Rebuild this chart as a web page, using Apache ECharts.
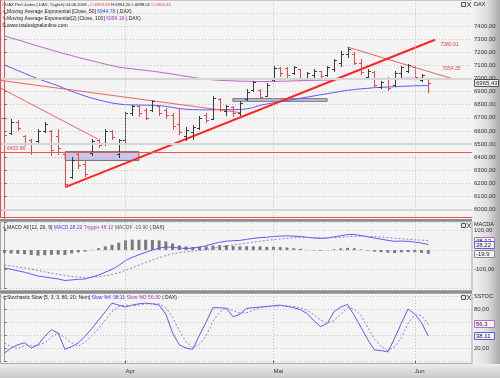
<!DOCTYPE html>
<html>
<head>
<meta charset="utf-8">
<script src="https://cdn.jsdelivr.net/npm/echarts@6/dist/echarts.min.js"></script>
<style>
  html, body { margin: 0; padding: 0; background: #fff; }
  #chart { width: 500px; height: 378px; }
</style>
</head>
<body>
<div id="chart"></div>
<script>
// trading days shown (index = position on the x axis)
const dates = [
  '2008-03-04','2008-03-05','2008-03-06','2008-03-07','2008-03-10','2008-03-11','2008-03-12','2008-03-13','2008-03-14',
  '2008-03-17','2008-03-18','2008-03-19','2008-03-20','2008-03-25','2008-03-26','2008-03-27','2008-03-28','2008-03-31',
  '2008-04-01','2008-04-02','2008-04-03','2008-04-04','2008-04-07','2008-04-08','2008-04-09','2008-04-10','2008-04-11',
  '2008-04-14','2008-04-15','2008-04-16','2008-04-17','2008-04-18','2008-04-21','2008-04-22','2008-04-23','2008-04-24',
  '2008-04-25','2008-04-28','2008-04-29','2008-04-30',
  '2008-05-02','2008-05-05','2008-05-06','2008-05-07','2008-05-08','2008-05-09','2008-05-12','2008-05-13','2008-05-14',
  '2008-05-15','2008-05-16','2008-05-19','2008-05-20','2008-05-21','2008-05-22','2008-05-23','2008-05-26','2008-05-27',
  '2008-05-28','2008-05-29','2008-05-30',
  '2008-06-02','2008-06-03','2008-06-04'
];
const opens = [6700,6580,6670,6560,6530,6520,6600,6600,6560,6420,6250,6420,6350,6430,6530,6500,6600,6420,
  6530,6735,6790,6760,6760,6790,6760,6720,6650,6560,6590,6620,6720,6690,6840,6750,6780,6740,6840,6910,6910,6870,
  6990,7080,7080,7040,7070,7005,7030,7055,7030,7070,7120,7190,7190,7120,7010,7050,6935,7000,6950,7040,7060,
  7090,6990,6993.69];
const highs = [6716,6687,6680,6567,6537,6612,6664,6610,6612,6440,6403,6440,6366,6537,6537,6612,6605,6537,
  6745,6800,6800,6776,6836,6791,6776,6739,6776,6627,6642,6716,6739,6866,6851,6800,6791,6828,6918,6978,6918,6963,
  7097,7090,7090,7097,7075,7052,7075,7060,7097,7150,7210,7240,7200,7150,7075,7060,6978,7015,7060,7097,7112,
  7097,7037,6994.20];
const lows = [6552,6575,6605,6493,6425,6515,6590,6418,6425,6172,6239,6314,6254,6418,6478,6493,6537,6403,
  6500,6724,6717,6687,6754,6724,6702,6612,6575,6530,6537,6612,6664,6687,6754,6724,6717,6724,6836,6903,6851,6866,
  6978,7022,7015,7037,6985,7000,7015,7015,7022,7060,7097,7165,7112,7037,7000,6940,6925,6910,6940,7015,7052,
  7000,6978,6898.01];
const closes = [6570,6670,6620,6510,6440,6600,6655,6450,6470,6190,6380,6340,6270,6520,6490,6600,6550,6530,
  6735,6790,6740,6700,6825,6740,6720,6640,6590,6610,6630,6700,6680,6850,6770,6790,6740,6810,6900,6970,6860,6950,
  7080,7040,7030,7085,7000,7040,7060,7020,7090,7140,7190,7225,7120,7050,7060,6950,6970,6925,7045,7090,7100,
  7015,7025,6965.43];

const ema50 = [7104,7082,7061,7040,7018,6998,6980,6962,6944,6922,6902,6884,6866,6850,6836,6824,6813,6805,
  6800,6798,6797,6796,6795,6793,6787,6779,6770,6765,6762,6761,6760,6761,6762,6762,6762,6763,6768,6778,6795,6805,
  6815,6822,6831,6840,6849,6858,6867,6876,6884,6893,6902,6910,6916,6921,6925,6930,6933,6935,6937,6940,6942,
  6944,6946,6944.78];
const ema100 = [7325,7310,7295,7280,7263,7248,7233,7218,7203,7188,7175,7161,7148,7136,7123,7110,7098,7087,
  7080,7074,7068,7062,7056,7049,7041,7034,7025,7017,7009,7001,6995,6990,6986,6984,6982,6980,6979,6978,6977,6977,
  6978,6979,6980,6982,6983,6985,6986,6987,6988,6990,6992,6994,6996,6997,6998,6999,6999,7000,7000,7001,7002,
  7002,7001,6999.18];

const macd = [-93,-100,-108,-115,-125,-135,-140,-145,-150,-158,-155,-152,-150,-140,-130,-115,-100,-80,
  -55,-38,-25,-12,0,10,15,14,10,8,10,15,22,32,40,46,48,50,55,60,64,66,
  70,72,73,72,70,66,62,60,62,68,74,80,80,75,68,62,56,50,45,46,45,
  41,36,28.22];
const trigger = [-78,-82,-88,-93,-99,-106,-113,-120,-126,-132,-137,-140,-142,-141,-139,-134,-127,-118,
  -105,-92,-78,-65,-52,-40,-29,-20,-14,-10,-6,-2,3,9,15,21,27,31,36,41,45,50,
  54,57,60,63,64,65,64,63,63,64,66,69,71,72,71,70,67,64,61,58,56,
  53,51,48.12];
const macdHist = [-15,-18,-20,-22,-26,-29,-27,-25,-24,-26,-18,-12,-8,1,9,19,27,38,
  50,54,53,53,52,50,44,34,24,18,16,17,19,23,25,25,21,19,19,19,19,16,
  16,15,13,9,6,1,-2,-3,-1,4,8,11,9,3,-3,-8,-11,-14,-16,-12,-11,
  -12,-15,-19.9];

const stochK = [12,20,25,28,20,25,38,48,43,18,22,28,38,50,63,76,89,86,
  83,86,88,89,88,86,72,43,25,20,18,40,60,82,82,81,68,72,81,82,83,84,
  85,86,84,82,79,73,62,53,58,76,83,87,70,52,33,17,16,14,35,58,80,
  72,59,38.11];
const stochD = [28,22,19,24,24,24,28,37,43,36,28,23,29,39,50,63,76,84,
  86,85,86,88,88,88,82,67,47,29,21,26,39,61,75,82,77,74,74,78,82,83,
  84,85,85,84,82,78,71,63,58,62,72,82,80,70,52,34,22,16,22,36,58,
  71,70,56.3];

const monthTicks = [18, 40, 61];
const monthLabels = ['Apr', 'Mai', 'Jun'];

// drawn studies: [startIndex, startPrice, endIndex, endPrice]
const trendUp = [9.15, 6172, 64, 7296];
const trendDownA = [-0.5, 6925, 13.9, 6537];
const trendDownB = [-0.5, 6985, 35.1, 6739];
const trendPeak = [51, 7240, 67, 6992];
const supportLevel = 6433.98;
const boxes = [[9.04, 6441, 20, 6374], [33.96, 6846, 47.97, 6826]];
const lineLabels = ['7280.91', '7054.35'];

const FONT = 'Liberation Sans, Arial, sans-serif';
const UP = '#3a3a3a', DOWN = '#ef4646';
const BLUE = '#5c5cf2', PURPLE = '#b86ac8';

const chart = echarts.init(document.getElementById('chart'));

const ohlc = dates.map((d, i) => [i, opens[i], highs[i], lows[i], closes[i]]);
const pairs = arr => arr.map((v, i) => [i, v]);
const seg = s => [[s[0], s[1]], [s[2], s[3]]];
const fmtComma = v => v.toFixed(2).replace('.', ',');

const monthLines = {
  silent: true, symbol: 'none', label: { show: false },
  lineStyle: { color: '#bdbdbd', type: [1, 2], width: 1 },
  data: monthTicks.map(t => ({ xAxis: t }))
};

const xAxisFor = (gi, withLabels) => ({
  type: 'value', gridIndex: gi, min: -0.5, max: 69.5,
  axisLine: { show: false }, splitLine: { show: false },
  axisTick: { show: withLabels, customValues: monthTicks, length: 3, inside: false, lineStyle: { color: '#555' } },
  axisLabel: {
    show: withLabels, customValues: monthTicks, margin: 5, align: 'left',
    fontFamily: FONT, fontSize: 6, color: '#333',
    formatter: v => monthLabels[monthTicks.indexOf(Math.round(v))] || ''
  },
  offset: withLabels ? 2 : 0
});

const yAxisFor = (gi, min, max, interval, lineColor, show) => ({
  type: 'value', gridIndex: gi, position: 'right', min, max, interval,
  axisLine: { show: true, lineStyle: { color: lineColor, width: 1 } },
  axisTick: { show: true, length: 2, lineStyle: { color: '#555' } },
  axisLabel: {
    margin: 2, fontFamily: FONT, fontSize: 6, color: '#333',
    formatter: v => show(v) ? fmtComma(v) : ''
  },
  splitLine: { show: true, lineStyle: { color: '#c4c4c4', type: [1, 2], width: 1 } }
});

const renderBar = (params, api) => {
  const i = api.value(0);
  const o = api.coord([i, api.value(1)]);
  const h = api.coord([i, api.value(2)]);
  const l = api.coord([i, api.value(3)]);
  const c = api.coord([i, api.value(4)]);
  const color = api.value(4) >= api.value(1) ? UP : DOWN;
  const x = Math.round(o[0]) + 0.5;
  const st = { stroke: color, lineWidth: 1 };
  return {
    type: 'group',
    children: [
      { type: 'line', shape: { x1: x, y1: Math.round(h[1]), x2: x, y2: Math.round(l[1]) + 1 }, style: st },
      { type: 'line', shape: { x1: x - 2.5, y1: Math.round(o[1]) + 0.5, x2: x, y2: Math.round(o[1]) + 0.5 }, style: st },
      { type: 'line', shape: { x1: x, y1: Math.round(c[1]) + 0.5, x2: x + 2.5, y2: Math.round(c[1]) + 0.5 }, style: st }
    ]
  };
};

const line = (data, color, xi, dashed, width) => ({
  type: 'line', xAxisIndex: xi, yAxisIndex: xi, data, showSymbol: false, silent: true,
  animation: false, z: 3,
  lineStyle: { color, width: width || 1, type: dashed ? [2, 2] : 'solid' }
});

const option = {
  animation: false,
  grid: [
    { left: 1, right: 28, top: -5.86, height: 228.3 },
    { left: 1, right: 28, top: 221.05, height: 67.55 },
    { left: 1, right: 28, top: 296, height: 65 }
  ],
  xAxis: [xAxisFor(0, false), xAxisFor(1, false), xAxisFor(2, true)],
  yAxis: [
    yAxisFor(0, 5900, 7600, 100, '#f04c4c', v => v >= 6000 && v <= 7400),
    yAxisFor(1, -200, 150, 100, '#9a9a9a', v => v === 100 || v === -100),
    yAxisFor(2, 0, 100, 20, '#9a9a9a', v => v === 20 || v === 80)
  ],
  series: [
    {
      type: 'custom', xAxisIndex: 0, yAxisIndex: 0, data: ohlc, renderItem: renderBar, z: 4,
      markLine: {
        silent: true, symbol: 'none', label: { show: false },
        data: [
          ...monthTicks.map(t => ({ xAxis: t, lineStyle: { color: '#bdbdbd', type: [1, 2], width: 1 } })),
          ...[6000, 6500, 7000].map(v => ({ yAxis: v, lineStyle: { color: '#d6d6d6', type: 'solid', width: 2 } })),
          { yAxis: supportLevel, lineStyle: { color: '#f05454', type: 'solid', width: 1 } }
        ]
      },
      markArea: {
        silent: true,
        itemStyle: { color: 'rgba(190,190,236,0.85)', borderColor: '#6e6e6e', borderWidth: 1 },
        data: boxes.map(b => [{ coord: [b[0], b[1]] }, { coord: [b[2], b[3]] }])
      }
    },
    line(pairs(ema50), BLUE, 0),
    line(pairs(ema100), PURPLE, 0),
    line(seg(trendDownA), '#f26262', 0),
    line(seg(trendDownB), '#f26262', 0),
    line(seg(trendPeak), '#f26262', 0),
    line(seg(trendUp), '#ff2222', 0, false, 2),

    {
      type: 'bar', xAxisIndex: 1, yAxisIndex: 1, data: pairs(macdHist), barWidth: 3,
      itemStyle: { color: '#7a7a7a' }, silent: true, z: 2, markLine: monthLines
    },
    line(pairs(macd), BLUE, 1),
    line(pairs(trigger), PURPLE, 1, true),

    Object.assign(line(pairs(stochK), BLUE, 2), { markLine: monthLines }),
    line(pairs(stochD), PURPLE, 2, true)
  ]
};
chart.setOption(option);

// overlays: panel frames, header texts, value tags
const py = (axis, v) => chart.convertToPixel({ xAxisIndex: axis, yAxisIndex: axis }, [0, v])[1];
const px = i => chart.convertToPixel({ xAxisIndex: 0, yAxisIndex: 0 }, [i, 7000])[0];

const tag = (y, text, border, w) => ({
  type: 'group', z: 120, children: [
    { type: 'rect', shape: { x: 474.5, y: Math.round(y) - 3.5, width: w, height: 7 },
      style: { fill: '#f4f4f4', stroke: border, lineWidth: 1 } },
    { type: 'text', x: 476, y: Math.round(y), style: { text, fill: '#222', font: '6px ' + FONT, verticalAlign: 'middle' } }
  ]
});
const txt = (x, y, rich, textStr, size, fill) => ({
  type: 'text', x, y, z: 110,
  style: { text: textStr, rich, fill: fill || '#222', font: (size || 5) + 'px ' + FONT, verticalAlign: 'middle' }
});
const richBase = s => ({
  r: { fill: '#f03c3c', fontSize: s, fontFamily: FONT },
  b: { fill: '#3c3cf0', fontSize: s, fontFamily: FONT },
  p: { fill: '#a040b8', fontSize: s, fontFamily: FONT },
  g: { fill: '#555', fontSize: s, fontFamily: FONT },
  i: { fill: '#333', fontSize: s + 1, fontFamily: 'DejaVu Sans' }
});
const hline = (x1, x2, y, color) => ({ type: 'line', z: 101, shape: { x1, y1: y, x2, y2: y }, style: { stroke: color, lineWidth: 1 } });
const vline = (x, y1, y2, color) => ({ type: 'line', z: 101, shape: { x1: x, y1, x2: x, y2 }, style: { stroke: color, lineWidth: 1 } });
// small window buttons at the top right of each panel
const buttons = y => ({
  type: 'group', z: 115, children: [
    { type: 'rect', shape: { x: 461.5, y: y + 0.5, width: 4, height: 4 }, style: { fill: '#e8e8e8', stroke: '#555', lineWidth: 1 } },
    { type: 'line', shape: { x1: 467, y1: y, x2: 471, y2: y + 5 }, style: { stroke: '#555', lineWidth: 1 } },
    { type: 'line', shape: { x1: 471, y1: y, x2: 467, y2: y + 5 }, style: { stroke: '#555', lineWidth: 1 } }
  ]
});

const graphics = [
  // backgrounds
  { type: 'rect', z: -20, shape: { x: 0, y: 0, width: 500, height: 378 }, style: { fill: '#ffffff' } },
  { type: 'rect', z: -19, shape: { x: 472, y: 0, width: 28, height: 364 },
    style: { fill: new echarts.graphic.LinearGradient(0, 0, 1, 0, [
      { offset: 0, color: '#f2f2f2' }, { offset: 0.55, color: '#dedede' }, { offset: 1, color: '#a9a9a9' }]) } },
  { type: 'rect', z: -19, shape: { x: 0, y: 364, width: 500, height: 14 },
    style: { fill: new echarts.graphic.LinearGradient(0, 0, 0, 1, [
      { offset: 0, color: '#ededed' }, { offset: 1, color: '#c9c9c9' }]) } },
  { type: 'rect', z: -18, shape: { x: 1, y: 1, width: 471, height: 217 }, style: { fill: '#f4f4f4' } },
  { type: 'rect', z: -18, shape: { x: 1, y: 222, width: 471, height: 68 }, style: { fill: '#f4f4f4' } },
  { type: 'rect', z: -18, shape: { x: 1, y: 294, width: 471, height: 69 }, style: { fill: '#f4f4f4' } },
  // separators
  { type: 'rect', z: 100, shape: { x: 0, y: 219, width: 472, height: 2 }, style: { fill: '#8c8c8c' } },
  { type: 'rect', z: 100, shape: { x: 0, y: 291, width: 472, height: 2 }, style: { fill: '#8c8c8c' } },
  // frames: main panel red on left/bottom/right, grey elsewhere
  hline(0, 472, 0.5, '#c8c8c8'),
  vline(0.5, 0, 218, '#f04c4c'),
  hline(0, 472, 217.5, '#f04c4c'),
  { type: 'rect', z: 101, shape: { x: 0.5, y: 221.5, width: 471.5, height: 69 }, style: { fill: null, stroke: '#a8a8a8', lineWidth: 1 } },
  { type: 'rect', z: 101, shape: { x: 0.5, y: 293.5, width: 471.5, height: 70 }, style: { fill: null, stroke: '#a8a8a8', lineWidth: 1 } },
  buttons(2), buttons(223), buttons(295),

  // header texts
  txt(2, 4.5, richBase(4.2), '{i|≀} DAX Perf.-Index [.DAX, Täglich] 04.06.2008 - {r|O:6993.69} H:6994.20 L:6898.01 {r|C:6965.43}', 4.2),
  txt(2, 12, richBase(5), '{i|∿}Moving Average Exponential [Close, 50] {b|6944.78} (.DAX)'),
  txt(2, 18.5, richBase(5), '{i|∿}Moving Average Exponential(2) [Close, 100] {p|6999.18} (.DAX)'),
  txt(2, 25.5, richBase(5), '© www.tradesignalonline.com'),
  txt(2, 228, richBase(5), '{i|∿}MACD All [12, 26, 9] {b|MACD 28.22} {p|Trigger 48.12} {g|MACDF -19.90} (.DAX)'),
  txt(2, 298, richBase(5), '{i|∿}Stochastic Slow [5, 3, 3, 80, 20, Nein] {b|Slow %K 38.11} {p|Slow %D 56.30} (.DAX)'),
  txt(474, 4, {}, 'DAX', 5.5),
  txt(474, 224, {}, 'MACDA', 5.5),
  txt(474, 296, {}, 'SSTOC', 5.5),

  // study value labels
  txt(7, py(0, supportLevel) - 3.5, {}, '6433.98', 5, '#f03c3c'),
  { type: 'text', z: 110, x: px(64.8), y: py(0, 7280.91) + 3, style: { text: lineLabels[0], fill: '#f03c3c', font: '5px ' + FONT, verticalAlign: 'middle' } },
  { type: 'text', z: 110, x: px(65.1), y: py(0, 7054.35) - 3, style: { text: lineLabels[1], fill: '#f03c3c', font: '5px ' + FONT, verticalAlign: 'middle' } },

  // value tags on the right axes
  tag(py(0, closes[closes.length - 1]), fmtComma(closes[closes.length - 1]), '#555', 24),
  tag(py(1, trigger[trigger.length - 1]), trigger[trigger.length - 1].toFixed(2), PURPLE, 20),
  tag(py(1, macd[macd.length - 1]), macd[macd.length - 1].toFixed(2), BLUE, 20),
  tag(py(1, macdHist[macdHist.length - 1]), macdHist[macdHist.length - 1].toFixed(1), '#888', 20),
  tag(py(2, stochD[stochD.length - 1]), stochD[stochD.length - 1].toFixed(1), PURPLE, 20),
  tag(py(2, stochK[stochK.length - 1]), stochK[stochK.length - 1].toFixed(2), BLUE, 20)
];

chart.setOption({ graphic: graphics });
</script>
</body>
</html>
